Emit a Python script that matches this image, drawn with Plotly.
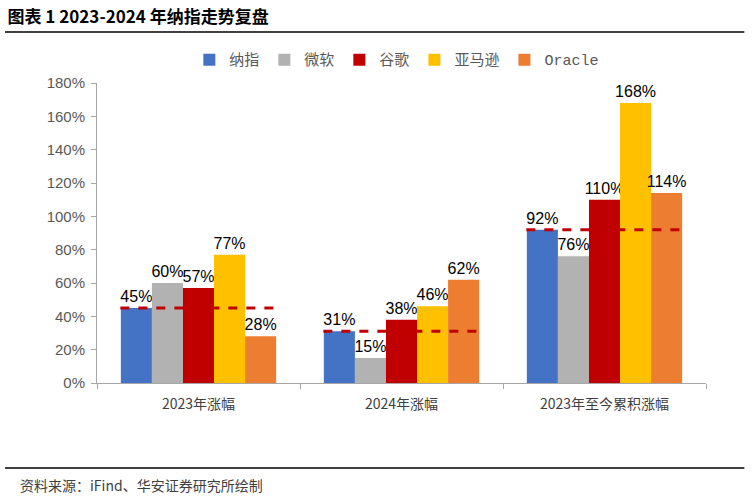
import plotly.graph_objects as go

categories = ["2023年涨幅", "2024年涨幅", "2023年至今累积涨幅"]
series_names = ["纳指", "微软", "谷歌", "亚马逊", "Oracle"]
nasdaq = [0.45, 0.31, 0.92]
msft = [0.60, 0.15, 0.76]
googl = [0.57, 0.38, 1.10]
amzn = [0.77, 0.46, 1.68]
orcl = [0.28, 0.62, 1.14]
y_ticks = [0, 0.2, 0.4, 0.6, 0.8, 1.0, 1.2, 1.4, 1.6, 1.8]

colors = ["#4472C4", "#B2B2B2", "#C00000", "#FFC000", "#ED7D31"]
values = [nasdaq, msft, googl, amzn, orcl]

fig = go.Figure()
for name, vals, c in zip(series_names, values, colors):
    fig.add_trace(go.Bar(
        x=categories, y=vals, name=name, marker=dict(color=c, line=dict(width=0)),
        text=[f"{round(v*100)}%" for v in vals], textposition="outside",
        constraintext="none",
        textfont=dict(size=16, color="#000000", family="Liberation Sans, Arial"),
        cliponaxis=False,
    ))

# dashed reference line at Nasdaq level across each group
hw = 0.385
for i, v in enumerate(nasdaq):
    fig.add_trace(go.Scatter(
        x=[i - hw, i + hw], y=[v, v], mode="lines", xaxis="x2", yaxis="y",
        line=dict(color="#C00000", width=3, dash="9px,9px"),
        showlegend=False, hoverinfo="skip",
    ))

fig.update_layout(
    width=753, height=499,
    paper_bgcolor="white", plot_bgcolor="white",
    margin=dict(l=97, r=47, t=83, b=116, autoexpand=False),
    barmode="group", bargap=0.235, bargroupgap=0,
    font=dict(family="Liberation Sans, Arial", size=14, color="#404040"),
    title=dict(text="<b>图表 1 2023-2024 年纳指走势复盘</b>", xref="container", yref="container",
               x=0.01, y=0.966, xanchor="left", yanchor="middle",
               font=dict(size=17, color="#000000", family="Noto Sans CJK SC")),
    legend=dict(orientation="h", xref="container", yref="container",
                x=0.527, xanchor="center", y=0.88, yanchor="middle",
                bgcolor="rgba(0,0,0,0)",
                font=dict(size=15, color="#595959", family="Liberation Mono, Noto Sans CJK SC"),
                itemwidth=30, tracegroupgap=0, traceorder="normal"),
    xaxis=dict(type="category", showline=True, linecolor="#A6A6A6", linewidth=1,
               ticks="outside", tickson="boundaries", ticklen=5, tickcolor="#A6A6A6",
               ticklabelstandoff=8,
               tickfont=dict(size=14, color="#404040", family="Noto Sans CJK SC, Liberation Sans"),
               showgrid=False, zeroline=False),
    xaxis2=dict(overlaying="x", range=[-0.5, 2.5], visible=False),
    yaxis=dict(range=[0, 1.8], tickvals=y_ticks, tickformat=".0%", showline=True,
               linecolor="#A6A6A6", linewidth=1, ticks="outside", ticklen=5,
               ticklabelstandoff=3,
               tickcolor="#A6A6A6", showgrid=False, zeroline=False,
               tickfont=dict(size=15, color="#595959")),
    annotations=[
        dict(text="资料来源：iFind、华安证券研究所绘制", xref="paper", yref="paper",
             x=-0.13, y=-0.34, xanchor="left", yanchor="middle", showarrow=False,
             font=dict(size=14, color="#404040", family="Noto Sans CJK SC")),
    ],
    shapes=[
        dict(type="line", xref="paper", yref="paper", x0=-0.151, x1=1.063, y0=1.17, y1=1.17,
             line=dict(color="#000000", width=1.5)),
        dict(type="line", xref="paper", yref="paper", x0=-0.151, x1=1.063, y0=-0.283, y1=-0.283,
             line=dict(color="#000000", width=1.5)),
    ],
)

fig.write_html("out.html", config={"displayModeBar": False},
               post_script="document.body.style.margin='0px';")
